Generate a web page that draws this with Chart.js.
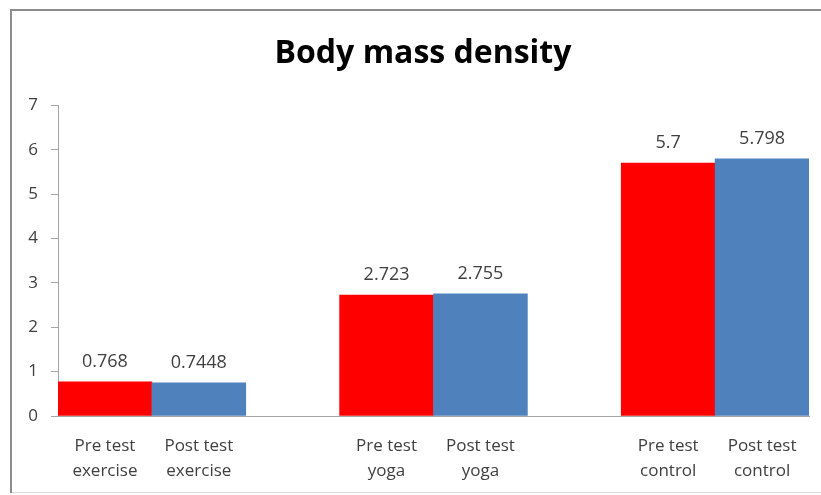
<!DOCTYPE html>
<html>
<head>
<meta charset="utf-8">
<script src="https://cdn.jsdelivr.net/npm/chart.js@4/dist/chart.umd.min.js"></script>
<style>
  html, body { margin: 0; padding: 0; overflow: hidden; background: #fff; }
  #wrap { position: absolute; left: 0; top: 0; width: 821px; height: 495px; overflow: hidden; }
  #c { display: block; }
</style>
</head>
<body>
<div id="wrap"><canvas id="c" width="834" height="495"></canvas></div>
<script>
// Body mass density: pre / post test per group
const chartTitle = 'Body mass density';
const groups = ['exercise', 'yoga', 'control'];
const preTest = [0.768, 2.723, 5.7];
const postTest = [0.7448, 2.755, 5.798];
const yMin = 0, yMax = 7, yStep = 1;

const PRE_COLOR = '#FF0000';
const POST_COLOR = '#4F81BD';
const TEXT_COLOR = '#404040';
const AXIS_COLOR = '#A6A6A6';
const FONT = "'Open Sans', 'Liberation Sans', sans-serif";

// One slot per bar, with an empty slot between groups
const labels = [], values = [], colors = [];
groups.forEach((g, i) => {
  labels.push(['Pre test', g]);  values.push(preTest[i]);  colors.push(PRE_COLOR);
  labels.push(['Post test', g]); values.push(postTest[i]); colors.push(POST_COLOR);
  if (i < groups.length - 1) { labels.push(''); values.push(null); colors.push('rgba(0,0,0,0)'); }
});

// Value text above each bar
const valueLabels = {
  id: 'valueLabels',
  afterDatasetsDraw(chart) {
    const ctx = chart.ctx;
    const meta = chart.getDatasetMeta(0);
    ctx.save();
    ctx.font = '18px ' + FONT;
    ctx.fillStyle = TEXT_COLOR;
    ctx.textAlign = 'center';
    ctx.textBaseline = 'alphabetic';
    meta.data.forEach((el, i) => {
      const v = chart.data.datasets[0].data[i];
      if (v === null || v === undefined) return;
      ctx.fillText(String(v), el.x, el.y - 15);
    });
    ctx.restore();
  }
};

// White background and the outer frame (left, top, bottom edges)
const frame = {
  id: 'frame',
  beforeDraw(chart) {
    const ctx = chart.ctx;
    ctx.save();
    ctx.fillStyle = '#fff';
    ctx.fillRect(0, 0, chart.width, chart.height);
    ctx.restore();
  },
  afterDraw(chart) {
    const ctx = chart.ctx;
    ctx.save();
    ctx.fillStyle = '#8C8C8C';
    ctx.fillRect(10, 9, 2, 484);
    ctx.fillRect(10, 9, chart.width - 10, 2);
    ctx.fillStyle = '#D9D9D9';
    ctx.fillRect(12, 492, chart.width - 12, 1);
    ctx.restore();
  }
};

new Chart(document.getElementById('c'), {
  type: 'bar',
  data: {
    labels: labels,
    datasets: [{
      data: values,
      backgroundColor: colors,
      borderWidth: 0,
      barPercentage: 1,
      categoryPercentage: 1
    }]
  },
  options: {
    responsive: false,
    animation: false,
    devicePixelRatio: 1,
    layout: { padding: { left: 12, top: 10, right: 0, bottom: 0 } },
    plugins: {
      legend: { display: false },
      tooltip: { enabled: false },
      title: {
        display: true,
        text: chartTitle,
        color: '#000',
        font: { family: FONT, weight: 'bold', size: 32 },
        padding: { top: 25, bottom: 32 }
      }
    },
    scales: {
      x: {
        grid: { drawOnChartArea: false, drawTicks: false },
        border: { display: true, color: AXIS_COLOR, width: 1 },
        ticks: {
          color: TEXT_COLOR,
          font: { family: FONT, size: 17, lineHeight: 25 / 17 },
          padding: 18,
          maxRotation: 0,
          autoSkip: false
        },
        afterFit(s) { s.height = 79; }
      },
      y: {
        min: yMin,
        max: yMax,
        grid: { drawOnChartArea: false, drawTicks: true, tickLength: 7, color: AXIS_COLOR },
        border: { display: true, color: AXIS_COLOR, width: 1 },
        ticks: {
          stepSize: yStep,
          color: TEXT_COLOR,
          font: { family: FONT, size: 17 },
          padding: 13
        },
        afterFit(s) { s.width = 46; }
      },
      yRight: {
        type: 'linear',
        position: 'right',
        display: true,
        min: yMin,
        max: yMax,
        grid: { display: false },
        border: { display: false },
        ticks: { display: false },
        afterFit(s) { s.width = 25; }
      }
    }
  },
  plugins: [frame, valueLabels]
});
</script>
</body>
</html>
